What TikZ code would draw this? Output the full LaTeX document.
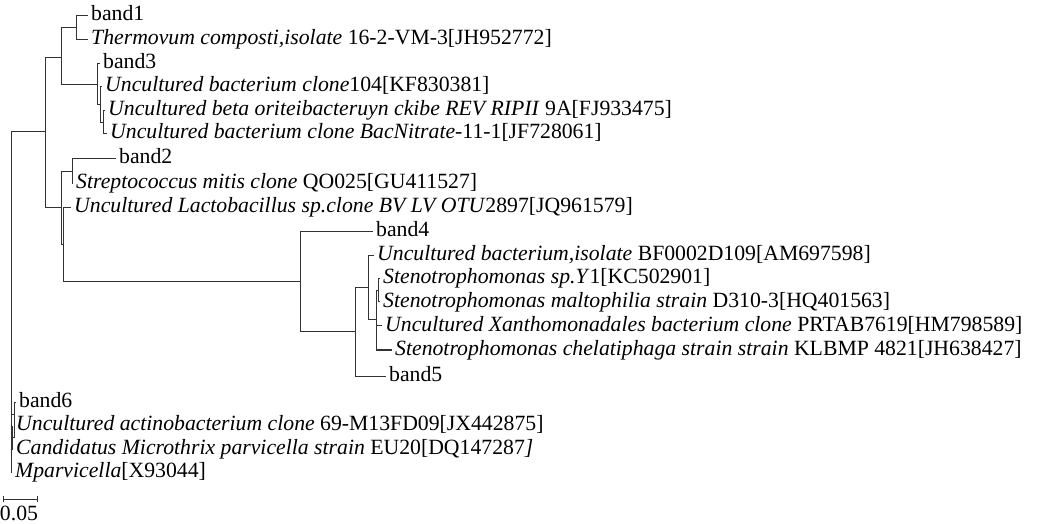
\documentclass[tikz,border=0pt]{standalone}
\usepackage{fontspec}
\setmainfont{Liberation Serif}
\begin{document}
\begin{tikzpicture}[x=0.75pt,y=-0.75pt,
  leaf/.style={anchor=west, inner xsep=2.2pt, inner ysep=0pt, text height=10.5pt, text depth=3pt, font=\fontsize{16.3}{19}\selectfont},
  branch/.style={draw=black!80, line width=0.75pt},
  scalelabel/.style={inner sep=0pt, font=\fontsize{16.3}{19}\selectfont}]
\useasboundingbox (0,0) rectangle (1040,524);
% leaves
\node[leaf] (band1) at (88,16) {band1};
\node[leaf] (therm) at (88,40) {\textit{Thermovum composti,isolate} 16-2-VM-3[JH952772]};
\node[leaf] (band3) at (100,64) {band3};
\node[leaf] (unc104) at (102,87) {\textit{Uncultured bacterium clone}104[KF830381]};
\node[leaf] (beta) at (105,111) {\textit{Uncultured beta oriteibacteruyn ckibe REV RIPII} 9A[FJ933475]};
\node[leaf] (bacnit) at (107,134) {\textit{Uncultured bacterium clone BacNitrate}-11-1[JF728061]};
\node[leaf] (band2) at (116,159) {band2};
\node[leaf] (strep) at (73,184) {\textit{Streptococcus mitis clone} QO025[GU411527]};
\node[leaf] (lacto) at (71,208) {\textit{Uncultured Lactobacillus sp.clone BV LV OTU}2897[JQ961579]};
\node[leaf] (band4) at (373,232) {band4};
\node[leaf] (bf) at (374,256) {\textit{Uncultured bacterium,isolate} BF0002D109[AM697598]};
\node[leaf] (sten1) at (380,279) {\textit{Stenotrophomonas sp.Y}1[KC502901]};
\node[leaf] (malto) at (380,302) {\textit{Stenotrophomonas maltophilia strain} D310-3[HQ401563]};
\node[leaf] (xantho) at (382,326) {\textit{Uncultured Xanthomonadales bacterium clone} PRTAB7619[HM798589]};
\node[leaf] (chelat) at (392,350) {\textit{Stenotrophomonas chelatiphaga strain strain} KLBMP 4821[JH638427]};
\node[leaf] (band5) at (386,376) {band5};
\node[leaf] (band6) at (16,402) {band6};
\node[leaf] (actino) at (13,426) {\textit{Uncultured actinobacterium clone} 69-M13FD09[JX442875]};
\node[leaf] (cand) at (13,449) {\textit{Candidatus Microthrix parvicella strain} EU20[DQ147287\textit{]}};
\node[leaf] (mparv) at (12,472) {\textit{Mparvicella}[X93044]};
% internal nodes
\coordinate (D) at (76,28);
\coordinate (E3) at (103,122.5);
\coordinate (E2) at (100,104.8);
\coordinate (E) at (97,84.4);
\coordinate (B) at (61,58);
\coordinate (F) at (72,171.5);
\coordinate (L) at (378,290.5);
\coordinate (K) at (376,320);
\coordinate (J) at (368,288);
\coordinate (I) at (355,332);
\coordinate (H) at (300,282);
\coordinate (G) at (63,245);
\coordinate (C) at (61,208);
\coordinate (A) at (45,132);
\coordinate (P) at (12,437.5);
\coordinate (N) at (14,414);
\coordinate (M) at (11,452);
\coordinate (R) at (11,289);
% branches
\draw[branch] (R) |- (A);
\draw[branch] (R) |- (M);
\draw[branch] (A) |- (B);
\draw[branch] (A) |- (C);
\draw[branch] (B) |- (D);
\draw[branch] (B) |- (E);
\draw[branch] (D) |- (band1.west);
\draw[branch] (D) |- (therm.west);
\draw[branch] (E) |- (band3.west);
\draw[branch] (E) |- (E2);
\draw[branch] (E2) |- (unc104.west);
\draw[branch] (E2) |- (E3);
\draw[branch] (E3) |- (beta.west);
\draw[branch] (E3) |- (bacnit.west);
\draw[branch] (C) |- (F);
\draw[branch] (C) |- (G);
\draw[branch] (F) |- (band2.west);
\draw[branch] (F) |- (strep.west);
\draw[branch] (G) |- (lacto.west);
\draw[branch] (G) |- (H);
\draw[branch] (H) |- (band4.west);
\draw[branch] (H) |- (I);
\draw[branch] (I) |- (J);
\draw[branch] (I) |- (band5.west);
\draw[branch] (J) |- (bf.west);
\draw[branch] (J) |- (K);
\draw[branch] (K) |- (L);
\draw[branch] (K) |- (xantho.west);
\draw[branch] (K) |- (chelat.west);
\draw[branch] (L) |- (sten1.west);
\draw[branch] (L) |- (malto.west);
\draw[branch] (M) |- (N);
\draw[branch] (M) |- (mparv.west);
\draw[branch] (N) |- (band6.west);
\draw[branch] (N) |- (P);
\draw[branch] (P) |- (actino.west);
\draw[branch] (P) |- (cand.west);
% scale bar
\coordinate (s1) at (3,499);
\coordinate (s2) at (37,499);
\draw[branch] (s1) -- (s2);
\draw[branch] ([yshift=-2.5pt]s1) -- ([yshift=2.5pt]s1);
\draw[branch] ([yshift=-2.5pt]s2) -- ([yshift=2.5pt]s2);
\node[scalelabel] (scale) at (19,513) {0.05};
\end{tikzpicture}
\end{document}
